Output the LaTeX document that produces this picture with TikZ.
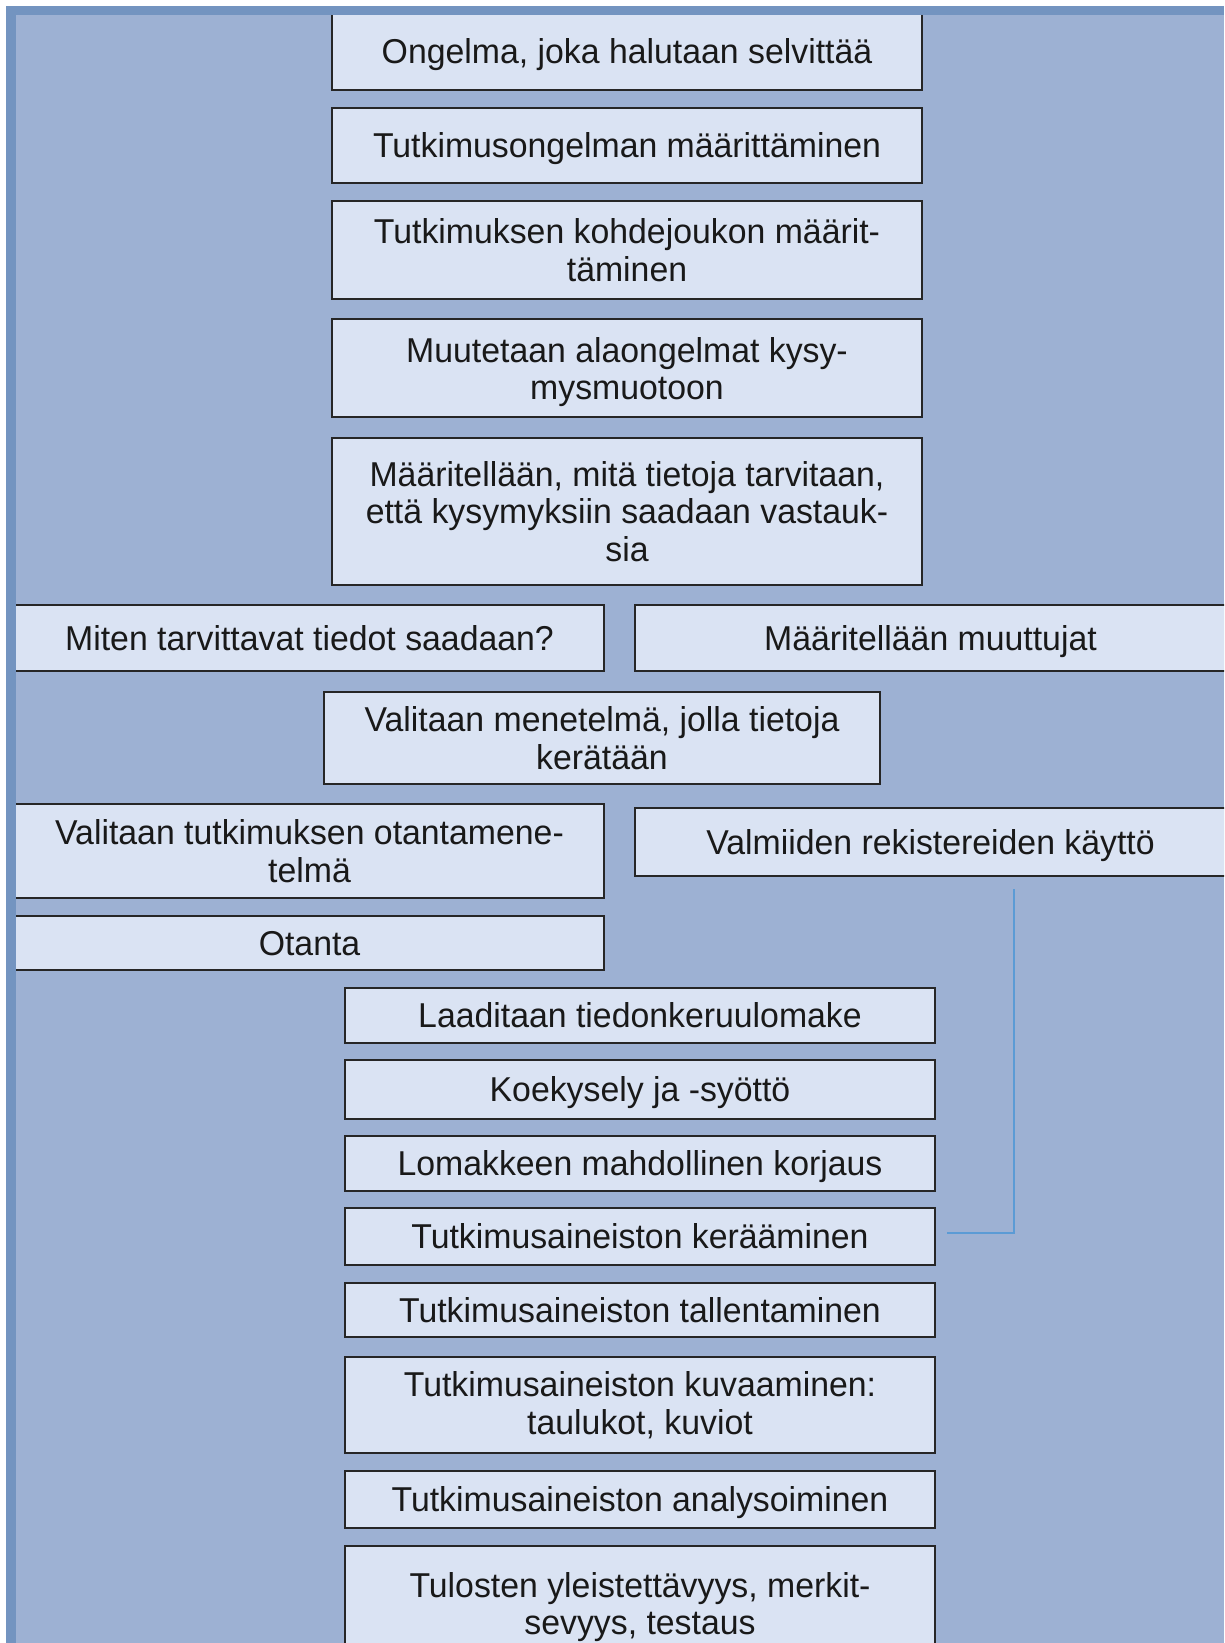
\documentclass[tikz,border=0pt]{standalone}
\usepackage{fontspec}
\setmainfont{Liberation Sans}[FakeStretch=0.98]
\definecolor{pagebg}{HTML}{9DB1D3}
\definecolor{bandblue}{HTML}{7394C0}
\definecolor{boxfill}{HTML}{DAE3F3}
\definecolor{linkblue}{HTML}{5B9BD5}
\newcommand{\topgap}{\rule{0pt}{33pt}}

\begin{document}
\begin{tikzpicture}[x=1pt, y=-1pt,
    stepbox/.style={draw=black!85, line width=1.5pt, fill=boxfill, align=center,
        inner sep=0pt, text=black!90, font=\fontsize{34.5}{37.5}\selectfont},
    oneline/.style={text height=28pt, text depth=4pt},
    link/.style={draw=linkblue, line width=2pt}]
\useasboundingbox (0,0) rectangle (1224,1643);
\clip (0,0) rectangle (1224,1643);
\fill[white] (0,0) rectangle (1224,1643);
\fill[pagebg] (6,6) rectangle (1224,1643);

% middle column
\node[stepbox, oneline, minimum width=590, minimum height=76] (ongelma) at (627,52) {Ongelma, joka halutaan selvittää};
\node[stepbox, oneline, minimum width=590, minimum height=75] (maaritys) at (627,145.5) {Tutkimusongelman määrittäminen};
\node[stepbox, minimum width=590, minimum height=98] (kohde) at (627,250) {Tutkimuksen kohdejoukon määrit-\\täminen};
\node[stepbox, minimum width=590, minimum height=98] (kysy) at (627,368) {\topgap Muutetaan alaongelmat kysy-\\mysmuotoon};
\node[stepbox, minimum width=590, minimum height=147] (tarve) at (627,511.5) {Määritellään, mitä tietoja tarvitaan,\\että kysymyksiin saadaan vastauk-\\sia};

% two columns
\node[stepbox, oneline, minimum width=589, minimum height=66] (miten) at (309.5,638) {Miten tarvittavat tiedot saadaan?};
\node[stepbox, oneline, minimum width=591, minimum height=66] (muuttujat) at (930.5,638) {Määritellään muuttujat};
\node[stepbox, minimum width=556, minimum height=92] (menetelma) at (602,738) {Valitaan menetelmä, jolla tietoja\\kerätään};
\node[stepbox, minimum width=589, minimum height=94] (otantatapa) at (309.5,851) {Valitaan tutkimuksen otantamene-\\telmä};
\node[stepbox, oneline, minimum width=591, minimum height=68] (rekisteri) at (930.5,842) {Valmiiden rekistereiden käyttö};
\node[stepbox, oneline, minimum width=589, minimum height=54] (otanta) at (309.5,943) {Otanta};

% lower column
\node[stepbox, oneline, minimum width=590, minimum height=55] (lomake) at (640,1015.5) {Laaditaan tiedonkeruulomake};
\node[stepbox, oneline, minimum width=590, minimum height=59] (koe) at (640,1089.5) {Koekysely ja -syöttö};
\node[stepbox, oneline, minimum width=590, minimum height=55] (korjaus) at (640,1163.5) {Lomakkeen mahdollinen korjaus};
\node[stepbox, oneline, minimum width=590, minimum height=57] (keruu) at (640,1236.5) {Tutkimusaineiston kerääminen};
\node[stepbox, oneline, minimum width=590, minimum height=54] (tallennus) at (640,1310) {Tutkimusaineiston tallentaminen};
\node[stepbox, minimum width=590, minimum height=96] (kuvaus) at (640,1405) {Tutkimusaineiston kuvaaminen:\\taulukot, kuviot};
\node[stepbox, oneline, minimum width=590, minimum height=57] (analyysi) at (640,1499.5) {Tutkimusaineiston analysoiminen};
\node[stepbox, minimum width=590, minimum height=114] (tulokset) at (640,1603) {\topgap Tulosten yleistettävyys, merkit-\\sevyys, testaus};

\coordinate (linktop) at (1014,889);
\draw[link] (linktop) |- ([xshift=11pt,yshift=3.5pt]keruu.east);

% frame band
\fill[bandblue] (6,6) rectangle (1224,15);
\fill[bandblue] (6,6) rectangle (16,1643);
\end{tikzpicture}
\end{document}
